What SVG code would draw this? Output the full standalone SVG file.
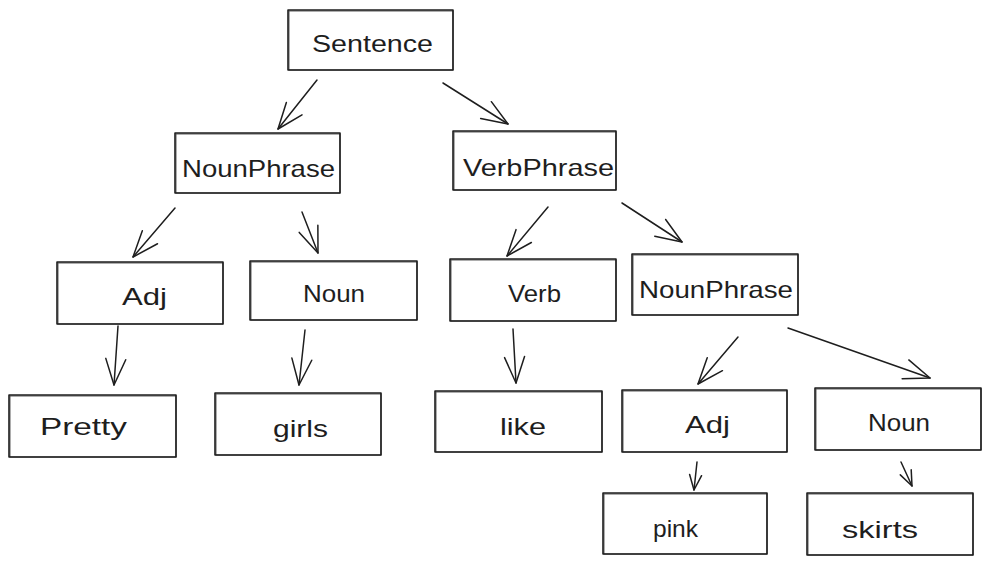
<svg xmlns="http://www.w3.org/2000/svg" width="990" height="564" viewBox="0 0 990 564">
<style>
.b{fill:none;stroke:#1e1e1e;stroke-width:1.6;stroke-linejoin:round}
.b2{fill:none;stroke:#1e1e1e;stroke-width:0.9;opacity:0.8}
.t{font-family:"Liberation Sans","DejaVu Sans",sans-serif;font-size:24px;fill:#1e1e1e}
.c{fill:none;stroke:#1e1e1e;stroke-width:1.5;stroke-linecap:round}
.h{fill:none;stroke:#1e1e1e;stroke-width:1.5;stroke-linecap:round;stroke-linejoin:round}
</style>
<defs>
<marker id="ah" viewBox="-30 -15 32 30" markerWidth="32" markerHeight="30" refX="0" refY="0" orient="auto" markerUnits="userSpaceOnUse">
<path class="h" d="M-26,-10 L0,0 L-26,10"/>
</marker>
<marker id="as" viewBox="-20 -10 22 20" markerWidth="22" markerHeight="20" refX="0" refY="0" orient="auto" markerUnits="userSpaceOnUse">
<path class="h" d="M-15,-6 L0,0 L-15,6"/>
</marker>
</defs>
<rect width="990" height="564" fill="#ffffff"/>
<g id="connectors">
<line class="c" x1="317" y1="80" x2="278" y2="129" marker-end="url(#ah)"/>
<line class="c" x1="443" y1="83" x2="508" y2="124" marker-end="url(#ah)"/>
<line class="c" x1="175" y1="208" x2="133" y2="257" marker-end="url(#ah)"/>
<line class="c" x1="302" y1="212" x2="318" y2="253" marker-end="url(#ah)"/>
<line class="c" x1="118" y1="326" x2="114" y2="385" marker-end="url(#ah)"/>
<line class="c" x1="305" y1="330" x2="299" y2="385" marker-end="url(#ah)"/>
<line class="c" x1="548" y1="207" x2="507" y2="256" marker-end="url(#ah)"/>
<line class="c" x1="622" y1="203" x2="682" y2="242" marker-end="url(#ah)"/>
<line class="c" x1="513" y1="329" x2="516" y2="383" marker-end="url(#ah)"/>
<line class="c" x1="738" y1="337" x2="698" y2="384" marker-end="url(#ah)"/>
<line class="c" x1="788" y1="328" x2="930" y2="378" marker-end="url(#ah)"/>
<line class="c" x1="697" y1="462" x2="694" y2="490" marker-end="url(#as)"/>
<line class="c" x1="901" y1="462" x2="912" y2="486" marker-end="url(#as)"/>
</g>
<g id="n-sentence">
<rect class="b" x="288" y="10" width="165" height="60"/>
<rect class="b2" x="289" y="11" width="164" height="59"/>
<text class="t" x="312" y="52" textLength="121" lengthAdjust="spacingAndGlyphs">Sentence</text>
</g>
<g id="n-nounphrase1">
<rect class="b" x="175" y="133" width="165" height="60"/>
<rect class="b2" x="176" y="134" width="164" height="59"/>
<text class="t" x="182" y="177" textLength="153" lengthAdjust="spacingAndGlyphs">NounPhrase</text>
</g>
<g id="n-verbphrase">
<rect class="b" x="453" y="131" width="163" height="59"/>
<rect class="b2" x="454" y="132" width="162" height="58"/>
<text class="t" x="463" y="176" textLength="151" lengthAdjust="spacingAndGlyphs">VerbPhrase</text>
</g>
<g id="n-adj1">
<rect class="b" x="57" y="262" width="166" height="62"/>
<rect class="b2" x="58" y="263" width="165" height="61"/>
<text class="t" x="122" y="305" textLength="45" lengthAdjust="spacingAndGlyphs">Adj</text>
</g>
<g id="n-noun1">
<rect class="b" x="250" y="261" width="167" height="59"/>
<rect class="b2" x="251" y="262" width="166" height="58"/>
<text class="t" x="303" y="302" textLength="62" lengthAdjust="spacingAndGlyphs">Noun</text>
</g>
<g id="n-verb">
<rect class="b" x="450" y="259" width="166" height="62"/>
<rect class="b2" x="451" y="260" width="165" height="61"/>
<text class="t" x="508" y="302" textLength="53" lengthAdjust="spacingAndGlyphs">Verb</text>
</g>
<g id="n-nounphrase2">
<rect class="b" x="632" y="254" width="166" height="61"/>
<rect class="b2" x="633" y="255" width="165" height="60"/>
<text class="t" x="639" y="298" textLength="154" lengthAdjust="spacingAndGlyphs">NounPhrase</text>
</g>
<g id="n-pretty">
<rect class="b" x="9" y="395" width="167" height="62"/>
<rect class="b2" x="10" y="396" width="166" height="61"/>
<text class="t" x="40" y="435" textLength="87" lengthAdjust="spacingAndGlyphs">Pretty</text>
</g>
<g id="n-girls">
<rect class="b" x="215" y="393" width="166" height="62"/>
<rect class="b2" x="216" y="394" width="165" height="61"/>
<text class="t" x="273" y="437" textLength="55" lengthAdjust="spacingAndGlyphs">girls</text>
</g>
<g id="n-like">
<rect class="b" x="435" y="391" width="167" height="61"/>
<rect class="b2" x="436" y="392" width="166" height="60"/>
<text class="t" x="500" y="435" textLength="46" lengthAdjust="spacingAndGlyphs">like</text>
</g>
<g id="n-adj2">
<rect class="b" x="622" y="390" width="165" height="62"/>
<rect class="b2" x="623" y="391" width="164" height="61"/>
<text class="t" x="685" y="433" textLength="45" lengthAdjust="spacingAndGlyphs">Adj</text>
</g>
<g id="n-noun2">
<rect class="b" x="815" y="388" width="166" height="62"/>
<rect class="b2" x="816" y="389" width="165" height="61"/>
<text class="t" x="868" y="431" textLength="62" lengthAdjust="spacingAndGlyphs">Noun</text>
</g>
<g id="n-pink">
<rect class="b" x="603" y="493" width="164" height="61"/>
<rect class="b2" x="604" y="494" width="163" height="60"/>
<text class="t" x="653" y="537" textLength="45" lengthAdjust="spacingAndGlyphs">pink</text>
</g>
<g id="n-skirts">
<rect class="b" x="807" y="493" width="166" height="62"/>
<rect class="b2" x="808" y="494" width="165" height="61"/>
<text class="t" x="842" y="538" textLength="76" lengthAdjust="spacingAndGlyphs">skirts</text>
</g>
</svg>
